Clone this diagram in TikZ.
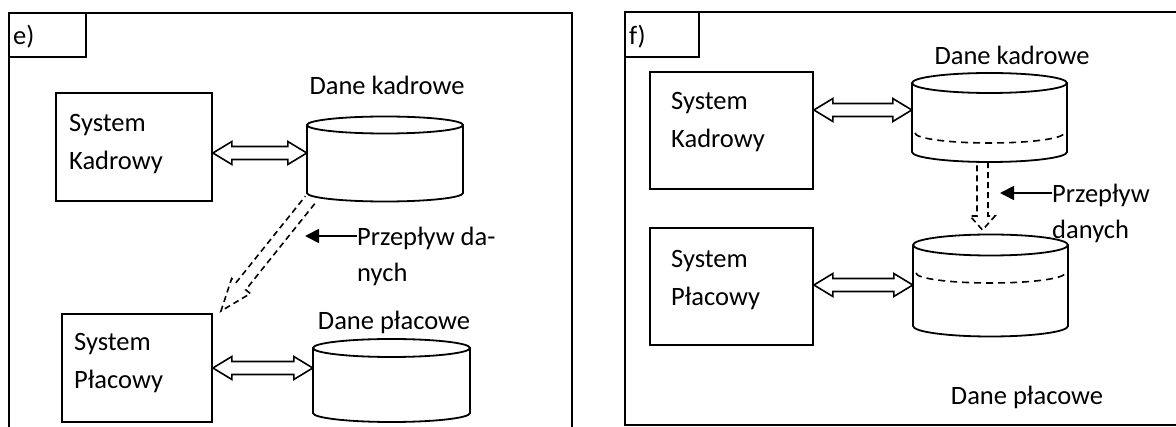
\documentclass[tikz,border=0pt]{standalone}
\usepackage{fontspec}
\setmainfont{Carlito}
\usetikzlibrary{calc,arrows.meta}
\tikzset{
  ln/.style={line width=1.8pt},
  boxn/.style={draw, line width=1.8pt, inner sep=0pt},
  txt/.style={inner sep=0pt, font=\fontsize{26.5}{38}\selectfont},
  mtxt/.style={txt, align=left, anchor=west},
  ftxt/.style={inner sep=0pt, font=\fontsize{26.5}{36}\selectfont, align=left, anchor=west},
  dbbox/.style={inner sep=0pt},
  blk/.style={line width=1.6pt, line join=miter},
  dblk/.style={line width=1.6pt, dash pattern=on 6pt off 4pt},
  flow/.style={line width=1.8pt, -{Triangle[length=14pt,width=14pt]}},
  dsh/.style={line width=1.6pt, dash pattern=on 7pt off 5pt},
}
% hollow double-headed block arrow: from, to, half shaft, half head, head length
\newcommand\hollowdbl[5]{%
  \coordinate (ha) at ($(#1)!#5!(#2)$);
  \coordinate (hb) at ($(#2)!#5!(#1)$);
  \draw[blk] (#1) -- ($(ha)!#4!90:(#2)$) -- ($(ha)!#3!90:(#2)$) -- ($(hb)!#3!90:(#2)$) -- ($(hb)!#4!90:(#2)$) -- (#2)
     -- ($(hb)!#4!-90:(#2)$) -- ($(hb)!#3!-90:(#2)$) -- ($(ha)!#3!-90:(#2)$) -- ($(ha)!#4!-90:(#2)$) -- cycle;
}
% hollow single block arrow (open tail): from, to, half shaft, half head, head length, style
\newcommand\hollowsgl[6]{%
  \coordinate (hb) at ($(#2)!#5!(#1)$);
  \draw[#6] ($(#1)!#3!90:(#2)$) -- ($(hb)!#3!90:(#2)$) -- ($(hb)!#4!90:(#2)$) -- (#2)
     -- ($(hb)!#4!-90:(#2)$) -- ($(hb)!#3!-90:(#2)$) -- ($(#1)!#3!-90:(#2)$);
}
% cylinder: name, cx, ytop, ybottom, rx, ry (image coordinates, y downwards)
\newcommand\dbcyl[6]{%
  \pgfmathsetmacro\cw{2*#5}\pgfmathsetmacro\ch{#4-#3+2*#6}\pgfmathsetmacro\cy{-(#3+#4)/2}
  \node[dbbox, minimum width={\cw pt}, minimum height={\ch pt}] (#1) at (#2,\cy) {};
  \draw[ln] (#2,-#3) ellipse[x radius=#5pt, y radius=#6pt];
  \draw[ln] (#2-#5,-#3) -- (#2-#5,-#4) arc[start angle=180, end angle=360, x radius=#5pt, y radius=#6pt] -- (#2+#5,-#3);
}
\begin{document}
\begin{tikzpicture}[x=1pt,y=1pt]
\useasboundingbox (0,0) rectangle (1176,-427);
% ---------- panel e ----------
\draw[ln] (9,-445) -- (9,-13) -- (572,-13) -- (572,-445);
\node[boxn, minimum width=77pt, minimum height=44pt] (boxe) at (47.5,-35) {};
\node[txt, anchor=west] (le) at (13,-37) {e)};
\node[boxn, minimum width=156pt, minimum height=108pt] (ske) at (134,-147) {};
\node[mtxt] (tske) at (69,-144) {System\\Kadrowy};
\node[boxn, minimum width=150pt, minimum height=108pt] (spe) at (137,-368) {};
\node[mtxt] (tspe) at (74,-363) {System\\Płacowy};
\dbcyl{dke}{385}{125}{193}{78}{8.5}
\dbcyl{dpe}{391.5}{348}{413}{78.5}{9}
\node[txt] (ldke) at (387,-85) {Dane kadrowe};
\node[txt] (ldpe) at (394,-322) {Dane płacowe};
\node[ftxt] (tfle) at (357,-256) {Przepływ da-\\nych};
\coordinate (a1s) at (ske.east |- 0,-153);
\coordinate (a1t) at (dke.west |- 0,-153);
\hollowdbl{a1s}{a1t}{6.5pt}{11.5pt}{19pt}
\coordinate (a2s) at (spe.east |- 0,-368);
\coordinate (a2t) at (dpe.west |- 0,-368);
\hollowdbl{a2s}{a2t}{6.5pt}{11.5pt}{19pt}
\coordinate (d1s) at (310,-200);
\coordinate (d1t) at (221,-311);
\hollowsgl{d1s}{d1t}{6pt}{12pt}{32pt}{dblk}
\coordinate (f1s) at (tfle.west |- 0,-236);
\coordinate (f1t) at (305,-236);
\draw[flow] (f1s) -- (f1t);
% ---------- panel f ----------
\draw[ln] (1190,-12) -- (625,-12) -- (625,-425) -- (1190,-425);
\node[boxn, minimum width=74pt, minimum height=45pt] (boxf) at (662,-34.5) {};
\node[txt, anchor=west] (lf) at (629,-37) {f)};
\node[boxn, minimum width=163pt, minimum height=117pt] (skf) at (731.5,-130.5) {};
\node[mtxt] (tskf) at (671,-122) {System\\Kadrowy};
\node[boxn, minimum width=163pt, minimum height=117pt] (spf) at (731.5,-286.5) {};
\node[mtxt] (tspf) at (671,-280) {System\\Płacowy};
\dbcyl{dkf}{989.5}{83}{152}{77.5}{10}
\dbcyl{dpf}{990.5}{245}{326}{77.5}{10.5}
\draw[dsh] (915,-133) arc[start angle=180, end angle=360, x radius=74.5pt, y radius=10pt];
\draw[dsh] (916,-273) arc[start angle=180, end angle=360, x radius=74.5pt, y radius=10pt];
\node[txt] (ldkf) at (1012,-55) {Dane kadrowe};
\node[txt] (ldpf) at (1027,-397) {Dane płacowe};
\node[ftxt] (tflf) at (1052,-213) {Przepływ\\danych};
\coordinate (b1s) at (skf.east |- 0,-110);
\coordinate (b1t) at (dkf.west |- 0,-110);
\hollowdbl{b1s}{b1t}{6.5pt}{11.5pt}{19pt}
\coordinate (b2s) at (spf.east |- 0,-285);
\coordinate (b2t) at (dpf.west |- 0,-285);
\hollowdbl{b2s}{b2t}{6.5pt}{11.5pt}{19pt}
\coordinate (d2s) at ($(dkf.south)+(-7,0)$);
\coordinate (d2t) at (982.5,-230);
\hollowsgl{d2s}{d2t}{5.5pt}{12.5pt}{14pt}{dblk}
\coordinate (f2s) at (tflf.west |- 0,-193);
\coordinate (f2t) at (1000,-193);
\draw[flow] (f2s) -- (f2t);
\end{tikzpicture}
\end{document}
